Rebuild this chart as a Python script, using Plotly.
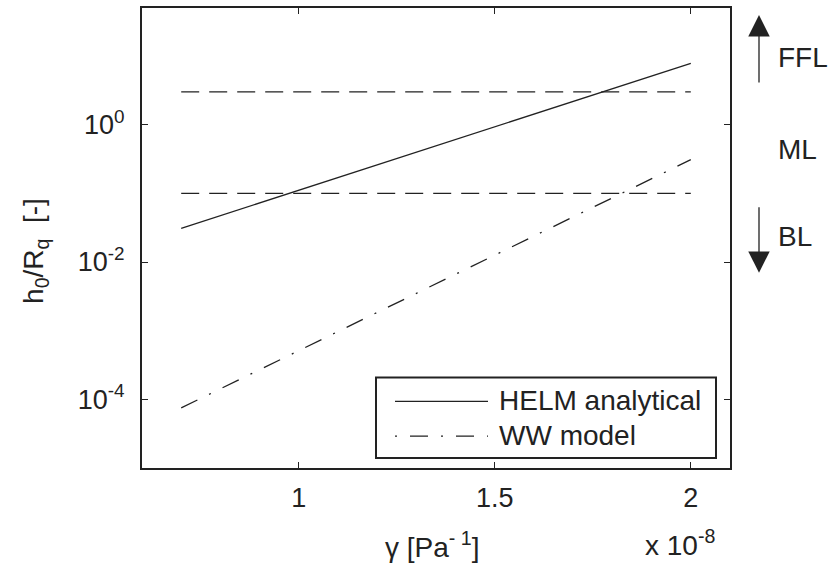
import plotly.graph_objects as go

# ---- data (gamma in units of 1e-8 Pa^-1) ----
gamma = [0.7, 2.0]
helm_analytical = [0.031, 7.85]
ww_model = [7.5e-5, 0.31]
ffl_limit = [3.0, 3.0]
bl_limit = [0.1, 0.1]

x_ticks = [1, 1.5, 2]
x_ticktext = ["1", "1.5", "2"]
y_ticks = [1e-4, 1e-2, 1]
y_ticktext = ["10<sup>-4</sup>", "10<sup>-2</sup>", "10<sup>0</sup>"]

series_names = ["HELM analytical", "WW model"]
regime_labels = ["FFL", "ML", "BL"]

# ---- layout geometry ----
W, H = 829, 564
L, R, T, B = 142, 730, 6, 468
PW, PH = R - L, B - T
INK = "#222222"
FONT = "Liberation Sans, Arial, Helvetica, sans-serif"


def px(x):
    return (x - L) / PW


def py(y):
    return (B - y) / PH


fig = go.Figure()
line_w = 1.3
fig.add_trace(go.Scatter(x=gamma, y=ffl_limit, mode="lines", showlegend=False,
                         line=dict(color=INK, width=line_w, dash="18px,10px")))
fig.add_trace(go.Scatter(x=gamma, y=bl_limit, mode="lines", showlegend=False,
                         line=dict(color=INK, width=line_w, dash="18px,10px")))
fig.add_trace(go.Scatter(x=gamma, y=helm_analytical, mode="lines", showlegend=False,
                         name=series_names[0], line=dict(color=INK, width=line_w)))
fig.add_trace(go.Scatter(x=gamma, y=ww_model, mode="lines", showlegend=False,
                         name=series_names[1],
                         line=dict(color=INK, width=line_w, dash="18px,13px,2px,13px")))

axis_common = dict(showline=True, linecolor=INK, linewidth=2, mirror="ticks",
                   ticks="inside", ticklen=6, tickwidth=1.3, tickcolor=INK,
                   showgrid=False, zeroline=False,
                   tickfont=dict(family=FONT, size=27, color=INK))

fig.update_layout(
    width=W, height=H,
    margin=dict(l=L, r=W - R, t=T, b=H - B),
    plot_bgcolor="white", paper_bgcolor="white",
    font=dict(family=FONT, size=28, color=INK),
    xaxis=dict(range=[0.6, 2.1], tickvals=x_ticks, ticktext=x_ticktext,
               ticklabelstandoff=5, **axis_common),
    yaxis=dict(type="log", range=[-5, 1.7], tickvals=y_ticks, ticktext=y_ticktext,
               ticklabelstandoff=10, **axis_common),
)

# legend box (manual, to match long line samples)
fig.add_shape(type="rect", xref="paper", yref="paper",
              x0=px(376), x1=px(716), y0=py(458), y1=py(377),
              line=dict(color=INK, width=2), fillcolor="white", layer="above")
fig.add_shape(type="line", xref="paper", yref="paper",
              x0=px(395), x1=px(488), y0=py(401), y1=py(401),
              line=dict(color=INK, width=line_w), layer="above")
fig.add_shape(type="line", xref="paper", yref="paper",
              x0=px(395), x1=px(488), y0=py(436), y1=py(436),
              line=dict(color=INK, width=line_w, dash="2px,13px,18px,13px"), layer="above")
for name, yy in zip(series_names, [400, 435]):
    fig.add_annotation(text=name, xref="paper", yref="paper", x=px(497), y=py(yy),
                       xanchor="left", yanchor="middle", showarrow=False,
                       font=dict(size=28, color=INK, family=FONT))

# axis titles
fig.add_annotation(text="γ [Pa<sup>- 1</sup>]", xref="paper", yref="paper",
                   x=px(432), y=py(545), xanchor="center", yanchor="middle",
                   showarrow=False, font=dict(size=28, color=INK, family=FONT))
fig.add_annotation(text="x 10<sup>-8</sup>", xref="paper", yref="paper",
                   x=px(643), y=py(543), xanchor="left", yanchor="middle",
                   showarrow=False, font=dict(size=28, color=INK, family=FONT))
fig.add_annotation(text="h<sub>0</sub>/R<sub>q</sub>&nbsp; [-]", xref="paper", yref="paper",
                   x=px(36), y=py(250), xanchor="center", yanchor="middle",
                   textangle=-90, showarrow=False,
                   font=dict(size=28, color=INK, family=FONT))

# regime labels and arrows
for lab, yy in zip(regime_labels, [56, 148, 235]):
    fig.add_annotation(text=lab, xref="paper", yref="paper", x=px(776), y=py(yy),
                       xanchor="left", yanchor="middle", showarrow=False,
                       font=dict(size=28, color=INK, family=FONT))
fig.add_annotation(text="", xref="paper", yref="paper", x=px(759), y=py(13),
                   ax=0, ay=69, showarrow=True, arrowhead=2, arrowsize=3.3,
                   arrowwidth=1.3, arrowcolor=INK)
fig.add_annotation(text="", xref="paper", yref="paper", x=px(759), y=py(272),
                   ax=0, ay=-67, showarrow=True, arrowhead=2, arrowsize=3.3,
                   arrowwidth=1.3, arrowcolor=INK)

fig.write_html("out.html")
